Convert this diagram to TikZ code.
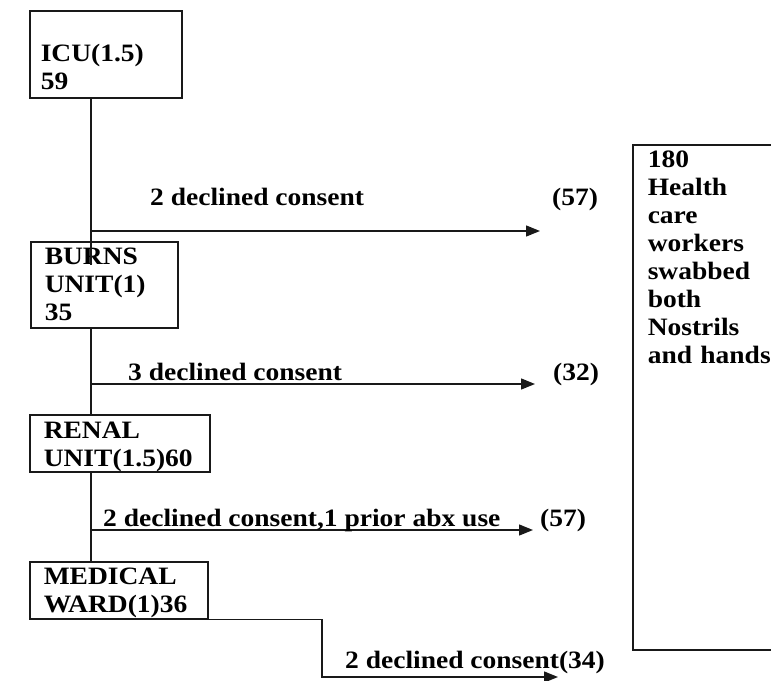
\documentclass[tikz,border=0pt]{standalone}
\usepackage{fontspec}
\setmainfont{Liberation Serif}[FakeStretch=1.1]
\usetikzlibrary{arrows.meta,calc}
\definecolor{linegray}{RGB}{25,25,25}

\begin{document}
\begin{tikzpicture}[x=1pt, y=-1pt, >={Triangle[length=14pt,width=11pt]},
  font=\fontsize{25}{28}\selectfont\bfseries,
  unit/.style={draw=linegray, line width=1.5pt, anchor=north west, align=left,
    inner xsep=14pt, inner ysep=0pt},
  lbl/.style={anchor=base west, inner sep=0pt},
  trunkline/.style={draw=linegray, line width=1.4pt},
  flow/.style={->, draw=linegray, line width=1.4pt}]

\useasboundingbox (0,0) rectangle (771,680);

%==================================================
% Ward boxes
%==================================================
\node[unit, text width=130pt, inner xsep=11pt] (icu) at (29,10)
  {\rule{0pt}{51pt}ICU(1.5)\\59\rule[-8pt]{0pt}{0pt}};
\node[unit, text width=119pt] (burns) at (30,241)
  {\rule{0pt}{23pt}BURNS\\UNIT(1)\\35\rule[-7pt]{0pt}{0pt}};
\node[unit, text width=152pt] (renal) at (29,414)
  {\rule{0pt}{24pt}RENAL\\UNIT(1.5)60\rule[-5pt]{0pt}{0pt}};
\node[unit, text width=150pt] (medical) at (29,561)
  {\rule{0pt}{23pt}MEDICAL\\WARD(1)36\rule[-6pt]{0pt}{0pt}};

% Total box (runs off the right edge)
\node[unit, text width=150pt, inner xsep=15pt] (hcw) at (632,144)
  {\rule{0pt}{23pt}180\\Health\\care\\workers\\swabbed\\both\\Nostrils\\and hands\rule[-286pt]{0pt}{0pt}};

%==================================================
% Trunk line
%==================================================
\coordinate (trunk) at (91,0);

\draw[trunkline] (icu.south -| trunk) -- ($(burns.north -| trunk)+(0,24)$);
\draw[trunkline] (burns.south -| trunk) -- (renal.north -| trunk);
\draw[trunkline] (renal.south -| trunk) -- (medical.north -| trunk);

%==================================================
% Exclusion arrows
%==================================================
\coordinate (tip1) at (540,231);
\coordinate (tip2) at (535,384);
\coordinate (tip3) at (533,530);
\coordinate (bend) at (322,677);
\coordinate (tip4) at (558,677);

\draw[flow] (tip1 -| trunk) -- (tip1);
\draw[flow] (tip2 -| trunk) -- (tip2);
\draw[flow] (tip3 -| trunk) -- (tip3);
\draw[flow] (medical.south -| trunk) -| (bend) -- (tip4);

% Labels
\node[lbl] (c1) at (150,205) {2 declined consent};
\node[lbl] (n1) at (552,205) {(57)};
\node[lbl] (c2) at (128,380) {3 declined consent};
\node[lbl] (n2) at (553,380) {(32)};
\node[lbl] (c3) at (103,526) {2 declined consent,1 prior abx use};
\node[lbl] (n3) at (540,526) {(57)};
\node[lbl] (c4) at (345,668) {2 declined consent(34)};

\end{tikzpicture}
\end{document}
